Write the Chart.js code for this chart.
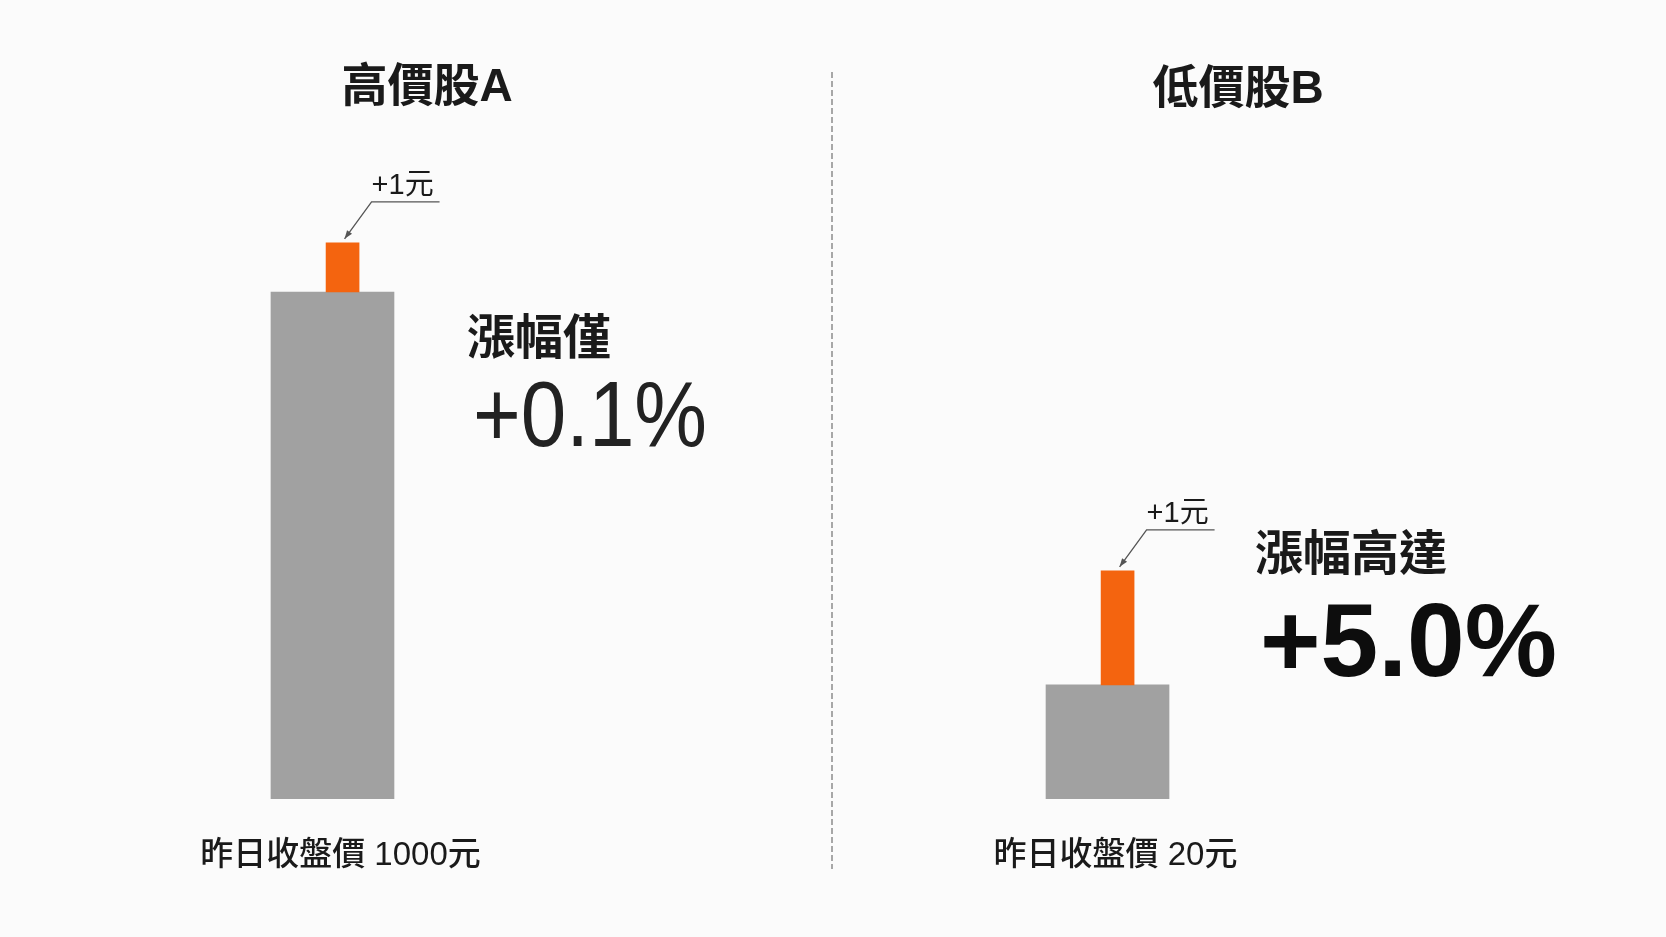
<!DOCTYPE html>
<html lang="zh-Hant">
<head>
<meta charset="utf-8">
<title>高價股 vs 低價股：同樣漲1元</title>
<script src="https://cdn.jsdelivr.net/npm/chart.js@4/dist/chart.umd.min.js"></script>
<style>
  html, body { margin: 0; padding: 0; background: #fbfbfb; }
  #wrap { width: 1666px; height: 937px; }
</style>
</head>
<body>
<div id="wrap"><canvas id="priceChart" width="1666" height="937"></canvas></div>
<script>
// 資料
const stocks = ['高價股A', '低價股B'];
const prevClose = [1000, 20];          // 昨日收盤價（元）
const priceGain = [1, 1];              // 上漲金額（元）
const gainCaption = ['漲幅僅', '漲幅高達'];
// 示意圖柱高（非等比例，依原圖估計）
const baseHeight = [100, 22.5];
const gainHeight = [9.7, 22.5];

// 樣式
const GRAY = '#a1a1a1';
const ORANGE = '#f4640f';
const TEXT = '#1a1a1a';
const FONT = "'Liberation Sans', 'Noto Sans CJK TC', sans-serif";
const GAIN_BAR_OFFSET = 0.013;         // 橘色柱稍微偏右

// 各區塊文字的版面位置
const titlePos = [{ x: 427, y: 88 }, { x: 1238, y: 90 }];
const captionPos = [{ x: 467, y: 341 }, { x: 1255, y: 557 }];
const pctPos = [{ x: 473, y: 446, size: 92, weight: 'normal', width: 234 },
                { x: 1260, y: 676, size: 104, weight: 'bold', width: 297 }];

function pctText(i) {
    return '+' + (priceGain[i] / prevClose[i] * 100).toFixed(1) + '%';
}

// 畫文字並水平縮放到指定寬度
function fitText(ctx, text, x, y, width) {
    const w = ctx.measureText(text).width;
    ctx.save();
    ctx.translate(x, y);
    ctx.scale(width ? width / w : 1, 1);
    ctx.fillText(text, 0, 0);
    ctx.restore();
}

const annotationPlugin = {
    id: 'annotations',
    afterDatasetsDraw(chart) {
        const ctx = chart.ctx;
        const baseMeta = chart.getDatasetMeta(0);
        const gainMeta = chart.getDatasetMeta(1);

        ctx.save();

        // 中間虛線
        ctx.strokeStyle = '#8c8c8c';
        ctx.lineWidth = 1.5;
        ctx.setLineDash([6, 3]);
        ctx.beginPath();
        ctx.moveTo(832, 72);
        ctx.lineTo(832, 869);
        ctx.stroke();
        ctx.setLineDash([]);

        stocks.forEach((name, i) => {
            const base = baseMeta.data[i];
            const gain = gainMeta.data[i];

            // 標題
            ctx.fillStyle = TEXT;
            ctx.font = 'bold 46px ' + FONT;
            ctx.textAlign = 'center';
            ctx.textBaseline = 'middle';
            ctx.fillText(name, titlePos[i].x, titlePos[i].y);

            // 昨日收盤價
            ctx.font = '500 33px ' + FONT;
            ctx.fillText('昨日收盤價 ' + prevClose[i] + '元', base.x + 8, base.base + 57);

            // +1元 標註與箭頭
            const tipX = gain.x + 2, tipY = gain.y - 4;
            const elbowX = gain.x + 29, elbowY = gain.y - 41;
            ctx.strokeStyle = '#555';
            ctx.fillStyle = '#555';
            ctx.lineWidth = 1.3;
            ctx.beginPath();
            ctx.moveTo(elbowX + 68, elbowY);
            ctx.lineTo(elbowX, elbowY);
            ctx.lineTo(tipX, tipY);
            ctx.stroke();
            const ang = Math.atan2(tipY - elbowY, tipX - elbowX);
            ctx.beginPath();
            ctx.moveTo(tipX, tipY);
            ctx.lineTo(tipX - 9 * Math.cos(ang - 0.35), tipY - 9 * Math.sin(ang - 0.35));
            ctx.lineTo(tipX - 9 * Math.cos(ang + 0.35), tipY - 9 * Math.sin(ang + 0.35));
            ctx.closePath();
            ctx.fill();

            ctx.fillStyle = TEXT;
            ctx.font = '29px ' + FONT;
            ctx.textAlign = 'left';
            ctx.textBaseline = 'alphabetic';
            ctx.fillText('+' + priceGain[i] + '元', elbowX, elbowY - 8);

            // 漲幅說明
            ctx.font = 'bold 48px ' + FONT;
            ctx.textBaseline = 'middle';
            ctx.fillText(gainCaption[i], captionPos[i].x, captionPos[i].y);

            const p = pctPos[i];
            ctx.font = p.weight + ' ' + p.size + 'px ' + FONT;
            ctx.textBaseline = 'alphabetic';
            ctx.fillStyle = i === 0 ? '#222' : '#0d0d0d';
            fitText(ctx, pctText(i), p.x, p.y, p.width);
        });

        ctx.restore();
    }
};

const ctx = document.getElementById('priceChart').getContext('2d');
new Chart(ctx, {
    type: 'bar',
    data: {
        datasets: [{
            label: '昨日收盤價',
            data: stocks.map((s, i) => ({ x: i, y: baseHeight[i] })),
            backgroundColor: GRAY,
            barThickness: 123,
            grouped: false,
            order: 2
        }, {
            label: '上漲金額',
            data: stocks.map((s, i) => ({ x: i + GAIN_BAR_OFFSET, y: [baseHeight[i], baseHeight[i] + gainHeight[i]] })),
            backgroundColor: ORANGE,
            barThickness: 33,
            grouped: false,
            order: 1
        }]
    },
    options: {
        responsive: false,
        devicePixelRatio: 1,
        animation: false,
        layout: { padding: { top: 0, right: 0, bottom: 138, left: 0 } },
        plugins: {
            legend: { display: false },
            tooltip: { enabled: false }
        },
        scales: {
            x: { type: 'linear', offset: false, min: -0.429, max: 1.7206, display: false },
            y: { min: 0, max: 157.6, display: false }
        }
    },
    plugins: [annotationPlugin]
});
</script>
</body>
</html>
